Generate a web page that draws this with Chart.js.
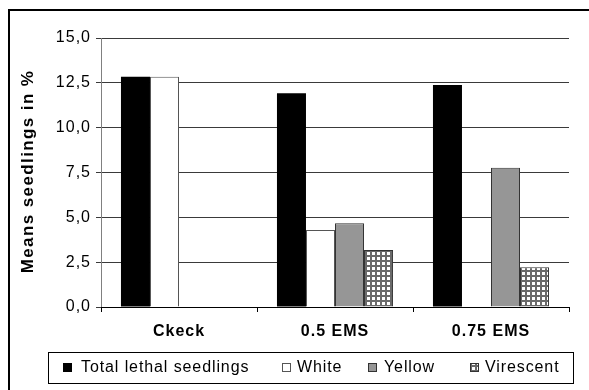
<!DOCTYPE html>
<html><head><meta charset="utf-8">
<script src="https://cdn.jsdelivr.net/npm/chart.js@4/dist/chart.umd.min.js"></script>
<style>html,body{margin:0;padding:0;background:#fff;overflow:hidden}#wrap{width:589px;height:390px;position:relative}</style>
</head><body><div id="wrap"><canvas id="c" width="589" height="390"></canvas></div>
<script>
const categories = ['Ckeck', '0.5 EMS', '0.75 EMS'];
const seriesNames = ['Total lethal seedlings', 'White', 'Yellow', 'Virescent'];
const totalLethal = [12.84, 11.92, 12.38];
const white = [12.84, 4.29, null];
const yellow = [null, 4.67, 7.77];
const virescent = [null, 3.18, 2.21];
const yTicks = [0, 2.5, 5, 7.5, 10, 12.5, 15];
const yTitle = 'Means seedlings in %';

const FONT = "'Liberation Sans', Arial, sans-serif";

function makeGrid() {
  const t = document.createElement('canvas');
  t.width = 5; t.height = 5;
  const g = t.getContext('2d');
  g.fillStyle = '#fff'; g.fillRect(0, 0, 5, 5);
  g.fillStyle = '#6a6a6a';
  g.fillRect(0, 0, 5, 2);
  g.fillRect(0, 0, 2, 5);
  return g.createPattern(t, 'repeat');
}
const ctx = document.getElementById('c').getContext('2d');
const gridPattern = makeGrid();

const fills = ['#000000', '#ffffff', '#969696', gridPattern];
const borders = ['#000000', '#555555', '#333333', '#333333'];
const borderW = [0, 1, 1, 1];
const seriesValues = [totalLethal, white, yellow, virescent];

const decor = {
  id: 'decor',
  beforeDraw(chart) { chart.ctx.letterSpacing = '1px'; },
  afterDraw(chart) {
    const c = chart.ctx;
    c.save();
    c.letterSpacing = '0px';
    c.strokeStyle = '#000'; c.lineWidth = 2;
    c.beginPath(); c.moveTo(9, 400); c.lineTo(9, 10); c.lineTo(600, 10); c.stroke();
    const ca = chart.chartArea;
    c.save();
    c.translate(28, (ca.top + ca.bottom) / 2 - 1);
    c.rotate(-Math.PI / 2);
    c.font = 'bold 17px ' + FONT;
    c.letterSpacing = '1.4px';
    c.fillStyle = '#000'; c.textAlign = 'center'; c.textBaseline = 'middle';
    c.fillText(yTitle, 0, 0);
    c.restore();
    c.lineWidth = 1; c.strokeStyle = '#000';
    c.strokeRect(48.5, 352.5, 525, 31);
    const mx = [63, 282, 368, 470];
    const tx = [81, 297, 384, 485];
    c.font = '16px ' + FONT;
    c.letterSpacing = '0.9px';
    c.textBaseline = 'alphabetic'; c.textAlign = 'left';
    chart.data.datasets.forEach((ds, i) => {
      c.fillStyle = ds.backgroundColor;
      c.fillRect(mx[i], 363, 9, 9);
      if (i > 0) { c.strokeStyle = ds.borderColor; c.strokeRect(mx[i] + 0.5, 363.5, 8, 8); }
      c.fillStyle = '#000';
      c.fillText(ds.label, tx[i], 372);
    });
    c.restore();
    c.letterSpacing = '0px';
  }
};

new Chart(ctx, {
  type: 'bar',
  data: {
    labels: categories,
    datasets: seriesNames.map((n, i) => ({
      label: n,
      data: seriesValues[i],
      backgroundColor: fills[i],
      borderColor: borders[i],
      borderWidth: borderW[i],
      categoryPercentage: 0.744,
      barPercentage: 1.0
    }))
  },
  options: {
    responsive: false,
    animation: false,
    devicePixelRatio: 1,
    layout: { padding: { left: 0, right: 20, top: 38, bottom: 0 } },
    plugins: { legend: { display: false }, tooltip: { enabled: false } },
    scales: {
      y: {
        min: 0, max: 15,
        afterBuildTicks: s => { s.ticks = yTicks.map(v => ({ value: v })); },
        afterFit: s => { s.width = 101; },
        ticks: {
          color: '#000', padding: 5,
          font: { family: FONT, size: 16 },
          callback: v => Number(v).toFixed(1).replace('.', ',')
        },
        grid: { color: '#3a3a3a', tickColor: '#3a3a3a', tickLength: 5, lineWidth: 1 },
        border: { color: '#808080', width: 1 }
      },
      x: {
        afterFit: s => { s.height = 83; },
        ticks: { color: '#000', padding: 10, font: { family: FONT, size: 16, weight: 'bold' } },
        grid: { display: true, drawOnChartArea: false, offset: true, tickLength: 5, color: '#000', tickColor: '#000' },
        border: { color: '#000', width: 1 }
      }
    }
  },
  plugins: [decor]
});
</script></body></html>
